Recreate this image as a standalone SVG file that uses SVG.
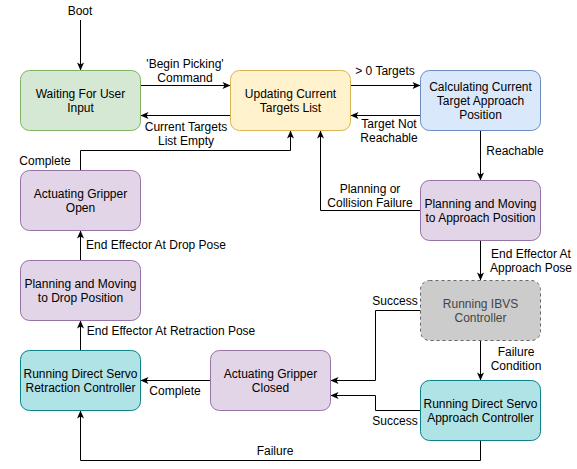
<svg xmlns="http://www.w3.org/2000/svg" width="577" height="469" viewBox="0 0 577 469">
<style>
text{font-family:"Liberation Sans",Arial,sans-serif;font-size:12px;fill:#000}
.n text{text-anchor:middle}
.c path{fill:none;stroke:#000;stroke-width:1;marker-end:url(#a)}
.lbl text{text-anchor:middle}
.green{fill:#d5e8d4;stroke:#82b366}
.yellow{fill:#fff2cc;stroke:#d6b656}
.blue{fill:#dae8fc;stroke:#6c8ebf}
.purple{fill:#e1d5e7;stroke:#9673a6}
.teal{fill:#b0e3e6;stroke:#0e8088}
.gray{fill:#cccccc;stroke:#666666;stroke-dasharray:3 3}
</style>
<defs>
<marker id="a" viewBox="0 0 10 10" refX="9" refY="5" markerWidth="10" markerHeight="10" markerUnits="userSpaceOnUse" orient="auto">
<path d="M1,1.5 L9,5 L1,8.5 L3,5 z" fill="#000"/>
</marker>
</defs>
<g class="c" id="connectors">
<path d="M80.5,20 V70.5"/>
<path d="M140.5,85.5 H230.5"/>
<path d="M230.5,115.5 H140.5"/>
<path d="M350.5,85.5 H420.5"/>
<path d="M420.5,115.5 H350.5"/>
<path d="M480.5,130.5 V180.5"/>
<path d="M420.5,210.5 H320.5 V130.5"/>
<path d="M80.5,170.5 V150.5 H290.5 V130.5"/>
<path d="M480.5,240.5 V280.5"/>
<path d="M480.5,340.5 V380.5"/>
<path d="M420.5,310.5 H375.5 V380.5 H330.5"/>
<path d="M420.5,410.5 H375.5 V395.5 H330.5"/>
<path d="M480.5,440.5 V460.5 H80.5 V410.5"/>
<path d="M210.5,380.5 H140.5"/>
<path d="M80.5,350.5 V320.5"/>
<path d="M80.5,260.5 V230.5"/>
</g>
<g class="lbl" id="labels">
<text x="80" y="15">Boot</text>
<text x="185" y="67.5">'Begin Picking'</text>
<text x="185" y="81.5">Command</text>
<text x="186" y="131">Current Targets</text>
<text x="186" y="145">List Empty</text>
<text x="385" y="75">&gt; 0 Targets</text>
<text x="389" y="127.5">Target Not</text>
<text x="389" y="141.5">Reachable</text>
<text x="515" y="155">Reachable</text>
<text x="370" y="192.5">Planning or</text>
<text x="370" y="207">Collision Failure</text>
<text x="45" y="165">Complete</text>
<text x="156" y="249">End Effector At Drop Pose</text>
<text x="531" y="258">End Effector At</text>
<text x="531" y="272">Approach Pose</text>
<text x="395" y="305">Success</text>
<text x="516" y="356">Failure</text>
<text x="516" y="370">Condition</text>
<text x="395" y="425">Success</text>
<text x="275" y="455">Failure</text>
<text x="175" y="395">Complete</text>
<text x="171" y="335">End Effector At Retraction Pose</text>
</g>
<g class="n" id="waiting"><rect class="green" x="20.5" y="70.5" width="120" height="60" rx="9"/><text x="80.5" y="98">Waiting For User</text><text x="80.5" y="112">Input</text></g>
<g class="n" id="updating"><rect class="yellow" x="230.5" y="70.5" width="120" height="60" rx="9"/><text x="290.5" y="98">Updating Current</text><text x="290.5" y="112">Targets List</text></g>
<g class="n" id="calculating"><rect class="blue" x="420.5" y="70.5" width="120" height="60" rx="9"/><text x="480.5" y="91">Calculating Current</text><text x="480.5" y="105">Target Approach</text><text x="480.5" y="119">Position</text></g>
<g class="n" id="planApproach"><rect class="purple" x="420.5" y="180.5" width="120" height="60" rx="9"/><text x="480.5" y="208">Planning and Moving</text><text x="480.5" y="222">to Approach Position</text></g>
<g class="n" id="ibvs"><rect class="gray" x="420.5" y="280.5" width="120" height="60" rx="9"/><text x="480.5" y="308" style="fill:#444444">Running IBVS</text><text x="480.5" y="322" style="fill:#444444">Controller</text></g>
<g class="n" id="dsApproach"><rect class="teal" x="420.5" y="380.5" width="120" height="60" rx="9"/><text x="480.5" y="408">Running Direct Servo</text><text x="480.5" y="422">Approach Controller</text></g>
<g class="n" id="gripClosed"><rect class="purple" x="210.5" y="350.5" width="120" height="60" rx="9"/><text x="270.5" y="378">Actuating Gripper</text><text x="270.5" y="392">Closed</text></g>
<g class="n" id="retraction"><rect class="teal" x="20.5" y="350.5" width="120" height="60" rx="9"/><text x="80.5" y="378">Running Direct Servo</text><text x="80.5" y="392">Retraction Controller</text></g>
<g class="n" id="planDrop"><rect class="purple" x="20.5" y="260.5" width="120" height="60" rx="9"/><text x="80.5" y="288">Planning and Moving</text><text x="80.5" y="302">to Drop Position</text></g>
<g class="n" id="gripOpen"><rect class="purple" x="20.5" y="170.5" width="120" height="60" rx="9"/><text x="80.5" y="198">Actuating Gripper</text><text x="80.5" y="212">Open</text></g>
</svg>
